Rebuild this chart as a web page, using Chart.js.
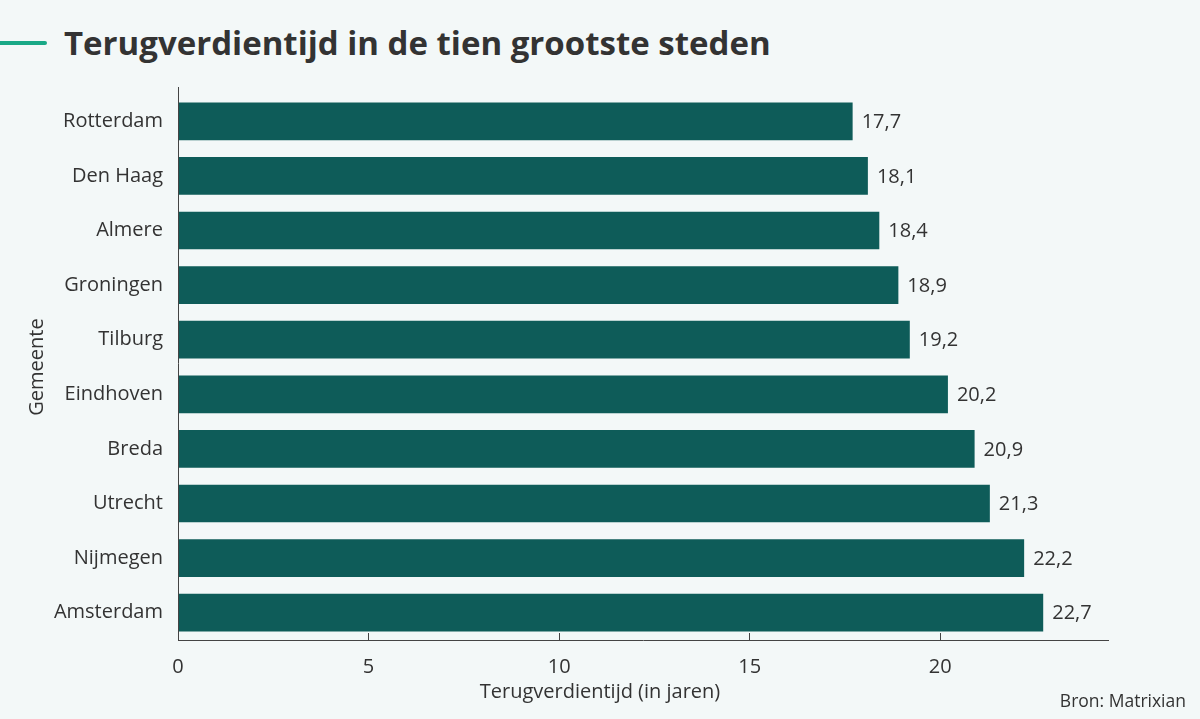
<!DOCTYPE html>
<html>
<head>
<meta charset="utf-8">
<script src="https://cdn.jsdelivr.net/npm/chart.js@4.4.1/dist/chart.umd.min.js"></script>
<style>
  html, body { margin: 0; padding: 0; background: #f3f8f8; }
  #wrap { position: relative; width: 1200px; height: 719px; overflow: hidden; font-family: "Open Sans", sans-serif; }
  #accent { position: absolute; left: 0; top: 41px; width: 47px; height: 4px; background: #19a987; border-radius: 0 2px 2px 0; }
  #title { position: absolute; left: 64px; top: 26px; font-size: 33px; line-height: 33px; font-weight: 700; color: #333333; white-space: nowrap; }
  #xtitle { position: absolute; left: 0; width: 1200px; top: 681px; text-align: center; font-size: 20px; line-height: 20px; color: #333333; }
  #source { position: absolute; right: 14px; top: 692px; font-size: 17.5px; line-height: 17.5px; color: #333333; }
  canvas { position: absolute; left: 0; top: 0; }
</style>
</head>
<body>
<div id="wrap">
  <div id="accent"></div>
  <div id="title">Terugverdientijd in de tien grootste steden</div>
  <canvas id="barChart" width="1200" height="719"></canvas>
  <div id="xtitle">Terugverdientijd (in jaren)</div>
  <div id="source">Bron: Matrixian</div>
</div>
<script>
const cities = ["Rotterdam", "Den Haag", "Almere", "Groningen", "Tilburg", "Eindhoven", "Breda", "Utrecht", "Nijmegen", "Amsterdam"];
const years = [17.7, 18.1, 18.4, 18.9, 19.2, 20.2, 20.9, 21.3, 22.2, 22.7];
const xTicks = [0, 5, 10, 15, 20];

const ink = "#333333";
const font = {family: "'Open Sans', sans-serif", size: 20};

// value labels at the end of each bar, plus the y axis line that starts a bit above the bars
const barLabels = {
  id: "barLabels",
  afterDatasetsDraw(chart) {
    const ctx = chart.ctx;
    const meta = chart.getDatasetMeta(0);
    ctx.save();
    ctx.font = "20px 'Open Sans', sans-serif";
    ctx.fillStyle = ink;
    ctx.textBaseline = "middle";
    meta.data.forEach(function (bar, i) {
      ctx.fillText(String(years[i]).replace(".", ","), bar.x + 9, bar.y + 1);
    });
    const area = chart.chartArea;
    ctx.strokeStyle = "#444444";
    ctx.lineWidth = 1;
    ctx.beginPath();
    ctx.moveTo(area.left + 0.5, area.top - 7);
    ctx.lineTo(area.left + 0.5, area.bottom);
    ctx.stroke();
    ctx.restore();
  }
};

new Chart(document.getElementById("barChart"), {
  type: "bar",
  data: {
    labels: cities,
    datasets: [{data: years, backgroundColor: "#0e5c59", barPercentage: 0.69, categoryPercentage: 1}]
  },
  options: {
    indexAxis: "y",
    responsive: false,
    animation: false,
    events: [],
    layout: {padding: {top: 94, right: 92, left: 0, bottom: 0}},
    plugins: {legend: {display: false}, tooltip: {enabled: false}},
    scales: {
      x: {
        min: 0,
        max: 24.4,
        afterFit(scale) { scale.height = 79; },
        afterBuildTicks(scale) { scale.ticks = xTicks.map(v => ({value: v})); },
        grid: {drawOnChartArea: false, drawTicks: true, tickLength: -7, color: "#444444"},
        border: {display: true, color: "#444444", width: 1},
        ticks: {color: ink, font: font, padding: 22, maxRotation: 0}
      },
      y: {
        afterFit(scale) { scale.width = 178; },
        grid: {display: false},
        border: {display: false},
        ticks: {color: ink, font: font, padding: 7},
        title: {display: true, text: "Gemeente", color: ink, font: font, padding: {top: 25, bottom: 0}}
      }
    }
  },
  plugins: [barLabels]
});
</script>
</body>
</html>
